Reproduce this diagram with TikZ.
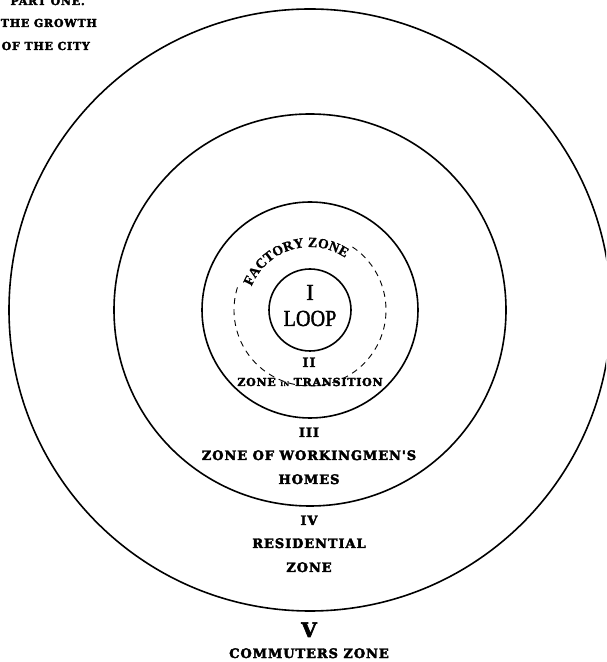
\documentclass[tikz,border=0pt]{standalone}
\usepackage{fontspec}
\usetikzlibrary{decorations.text}
\newfontfamily\slab[LetterSpace=7,FakeBold=3]{DejaVu Serif Bold}
\newfontfamily\loopfont[FakeBold=1.5]{Liberation Serif}
\newfontfamily\factfont[FakeBold=1.2]{Liberation Serif Bold}
\begin{document}
\begin{tikzpicture}[x=1pt,y=1pt,
  ring/.style={draw, circle, line width=1.6pt, inner sep=0pt, outer sep=0pt},
  lbl/.style={anchor=base, inner sep=0pt, font=\slab\fontsize{13}{13}\selectfont},
  ttl/.style={anchor=base east, inner sep=0pt, font=\slab\fontsize{11}{11}\selectfont},
  big/.style={anchor=base, inner sep=0pt, font=\loopfont\fontsize{23}{23}\selectfont}]
\useasboundingbox (0,0) rectangle (606,662);
\clip (0,0) rectangle (606,662);
\coordinate (C) at (310,352);
\node[ring, minimum size=602pt] (outer) at (C) {};
\node[ring, minimum size=392pt] (c3) at (C) {};
\node[ring, minimum size=216pt] (c2) at (C) {};
\node[ring, minimum size=82pt] (loop) at (C) {};
\draw[line width=0.9pt, dash pattern=on 6pt off 5pt] ([shift={(56:76)}]C) arc[start angle=56, end angle=-200, radius=76];
\path[decorate, decoration={text along path, text align=center,
  text={|\factfont\fontsize{14}{14}\selectfont|FACTORY ZONE}}]
  ([shift={(164:63)}]C) arc[start angle=164, end angle=50, radius=63];
% titles
\node[ttl] (t1) at (85,657) {PART ONE.};
\node[ttl] (t2) at (97,635) {THE GROWTH};
\node[ttl] (t3) at (90,612) {OF THE CITY};
% loop
\node[big] (one) at (310,362) {I};
\node[big] (looptxt) at (310,336) {\scalebox{0.88}[1]{LOOP}};
% zone II
\node[lbl] (two) at (309,295) {II};
\node[lbl, font=\slab\fontsize{11}{11}\selectfont] (trans) at (310,276) {ZONE {\fontsize{6}{6}\selectfont IN} TRANSITION};
% zone III
\node[lbl] (three) at (309,225) {III};
\node[lbl] (work) at (309,202) {ZONE OF WORKINGMEN'S};
\node[lbl] (homes) at (309,178) {HOMES};
% zone IV
\node[lbl] (four) at (309,137) {IV};
\node[lbl] (resid) at (309,114) {RESIDENTIAL};
\node[lbl] (zone4) at (309,90) {ZONE};
% zone V
\node[lbl, font=\slab\fontsize{20}{20}\selectfont] (five) at (309,25) {V};
\node[lbl] (comm) at (309,4) {COMMUTERS ZONE};
\end{tikzpicture}
\end{document}
